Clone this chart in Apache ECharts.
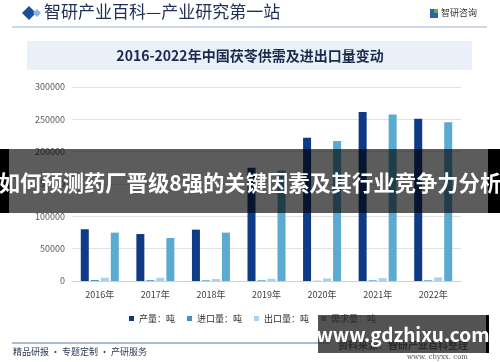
<!DOCTYPE html>
<html>
<head>
<meta charset="utf-8">
<script src="https://cdn.jsdelivr.net/npm/echarts@6/dist/echarts.min.js"></script>
<style>
html,body{margin:0;padding:0;background:#fff;}
#chart{width:500px;height:362px;}
</style>
</head>
<body>
<div id="chart"></div>
<script>
var categories = ['2016年','2017年','2018年','2019年','2020年','2021年','2022年'];
var production = [80000, 72600, 79400, 175000, 221600, 261200, 251000];
var imports = [1500, 1200, 1000, 1000, 300, 1000, 1000];
var exports = [5000, 5000, 3000, 3500, 4000, 4500, 5500];
var demand = [74800, 66500, 74800, 171000, 216400, 257600, 245300];
var seriesNames = ['产量：吨','进口量：吨','出口量：吨','需求量：吨'];
var yTicks = {min: 0, max: 300000, interval: 50000};

var colors = ['#0f3a85', '#3a93cc', '#a6d2ee', '#5aaad1'];
var font = '"Noto Sans CJK SC", "Noto Sans", sans-serif';
var chart = echarts.init(document.getElementById('chart'), null, {renderer: 'canvas'});

var dataSets = [production, imports, exports, demand];
var series = dataSets.map(function (d, i) {
  return {
    name: seriesNames[i], type: 'bar', data: d, barWidth: 8, barGap: '25%',
    itemStyle: {color: colors[i]}
  };
});

chart.setOption({
  animation: false,
  backgroundColor: '#ffffff',
  textStyle: {fontFamily: font},
  grid: {left: 72, right: 39, top: 87, bottom: 81, containLabel: false},
  xAxis: {
    type: 'category', data: categories,
    axisLine: {lineStyle: {color: '#d0d0d0'}},
    axisTick: {show: false},
    axisLabel: {color: '#404040', fontSize: 9, margin: 9, fontFamily: font}
  },
  yAxis: {
    type: 'value', min: yTicks.min, max: yTicks.max, interval: yTicks.interval,
    axisLine: {show: false}, axisTick: {show: false},
    axisLabel: {color: '#595959', fontSize: 9, margin: 7, fontFamily: font,
      formatter: function (v) { return String(v); }},
    splitLine: {lineStyle: {color: '#e2e2e2'}}
  },
  legend: {
    left: 124, top: 309, itemWidth: 5, itemHeight: 5, itemGap: 12,
    icon: 'rect',
    textStyle: {color: '#333', fontSize: 9, fontFamily: font},
    data: seriesNames
  },
  series: series,
  graphic: [
    // header
    {type: 'polygon', shape: {points: [[22,13],[29,6],[36,13],[29,20]]}, style: {fill: '#1d4e9e'}},
    {type: 'polygon', shape: {points: [[33,13],[37,9],[41,13],[37,17]]}, style: {fill: '#8fb0dd'}},
    {type: 'text', left: 44, top: 3, style: {text: '智研产业百科—产业研究第一站', fill: '#1f2f55', font: '17px ' + font}},
    {type: 'rect', shape: {x: 430, y: 9, width: 8, height: 9}, style: {fill: '#2b62b0'}},
    {type: 'rect', shape: {x: 434, y: 9, width: 4, height: 4}, style: {fill: '#4fb84a'}},
    {type: 'text', left: 441, top: 8, style: {text: '智研咨询', fill: '#333', font: '9px ' + font}},
    {type: 'line', shape: {x1: 12, y1: 27, x2: 487, y2: 27}, style: {stroke: '#9fb0cc', lineWidth: 1}},
    // title band
    {type: 'rect', shape: {x: 27, y: 41, width: 445, height: 29}, style: {fill: '#e9f0f9'}, z: -1},
    {type: 'text', x: 250, y: 56, style: {text: '2016-2022年中国茯苓供需及进出口量变动', fill: '#1b2a4a', font: 'bold 14px ' + font, textAlign: 'center', textVerticalAlign: 'middle'}},
    // footer
    {type: 'line', shape: {x1: 12, y1: 343, x2: 330, y2: 343}, style: {stroke: '#5b7aa8', lineWidth: 1}},
    {type: 'text', left: 13, top: 347, style: {text: '精品研报 · 专题定制 · 产研服务', fill: '#2d3a55', font: '9px ' + font}},
    {type: 'text', x: 468, y: 357, style: {text: 'www. chyxx. com', fill: '#555', font: '7px "DejaVu Serif", serif', textAlign: 'right', textVerticalAlign: 'middle'}},
    {type: 'text', x: 468, y: 345, style: {text: '资料来源：智研产业百科整理', fill: '#2a3550', font: 'bold 10px ' + font, textAlign: 'right', textVerticalAlign: 'middle'}, z: 50},
    // overlay band
    {type: 'rect', shape: {x: 9, y: 149, width: 479, height: 64}, style: {fill: 'rgba(0,0,0,0.64)'}, z: 100},
    {type: 'rect', shape: {x: 0, y: 149, width: 9, height: 64}, style: {fill: '#000'}, z: 100},
    {type: 'rect', shape: {x: 488, y: 149, width: 12, height: 64}, style: {fill: '#000'}, z: 100},
    {type: 'text', x: 250, y: 183, style: {text: '如何预测药厂晋级8强的关键因素及其行业竞争力分析', fill: '#fff', font: 'bold 21.3px ' + font, textAlign: 'center', textVerticalAlign: 'middle'}, z: 101},
    // bottom watermark box
    {type: 'rect', shape: {x: 318, y: 315, width: 170, height: 38}, style: {fill: 'rgba(40,40,40,0.8)'}, z: 100},
    {type: 'rect', shape: {x: 486, y: 315, width: 3, height: 38}, style: {fill: '#000'}, z: 100},
    {type: 'text', x: 403, y: 335, style: {text: 'www.gdzhixu.com', fill: '#fff', font: 'bold 19px ' + font, textAlign: 'center', textVerticalAlign: 'middle'}, z: 101}
  ]
});
</script>
</body>
</html>
